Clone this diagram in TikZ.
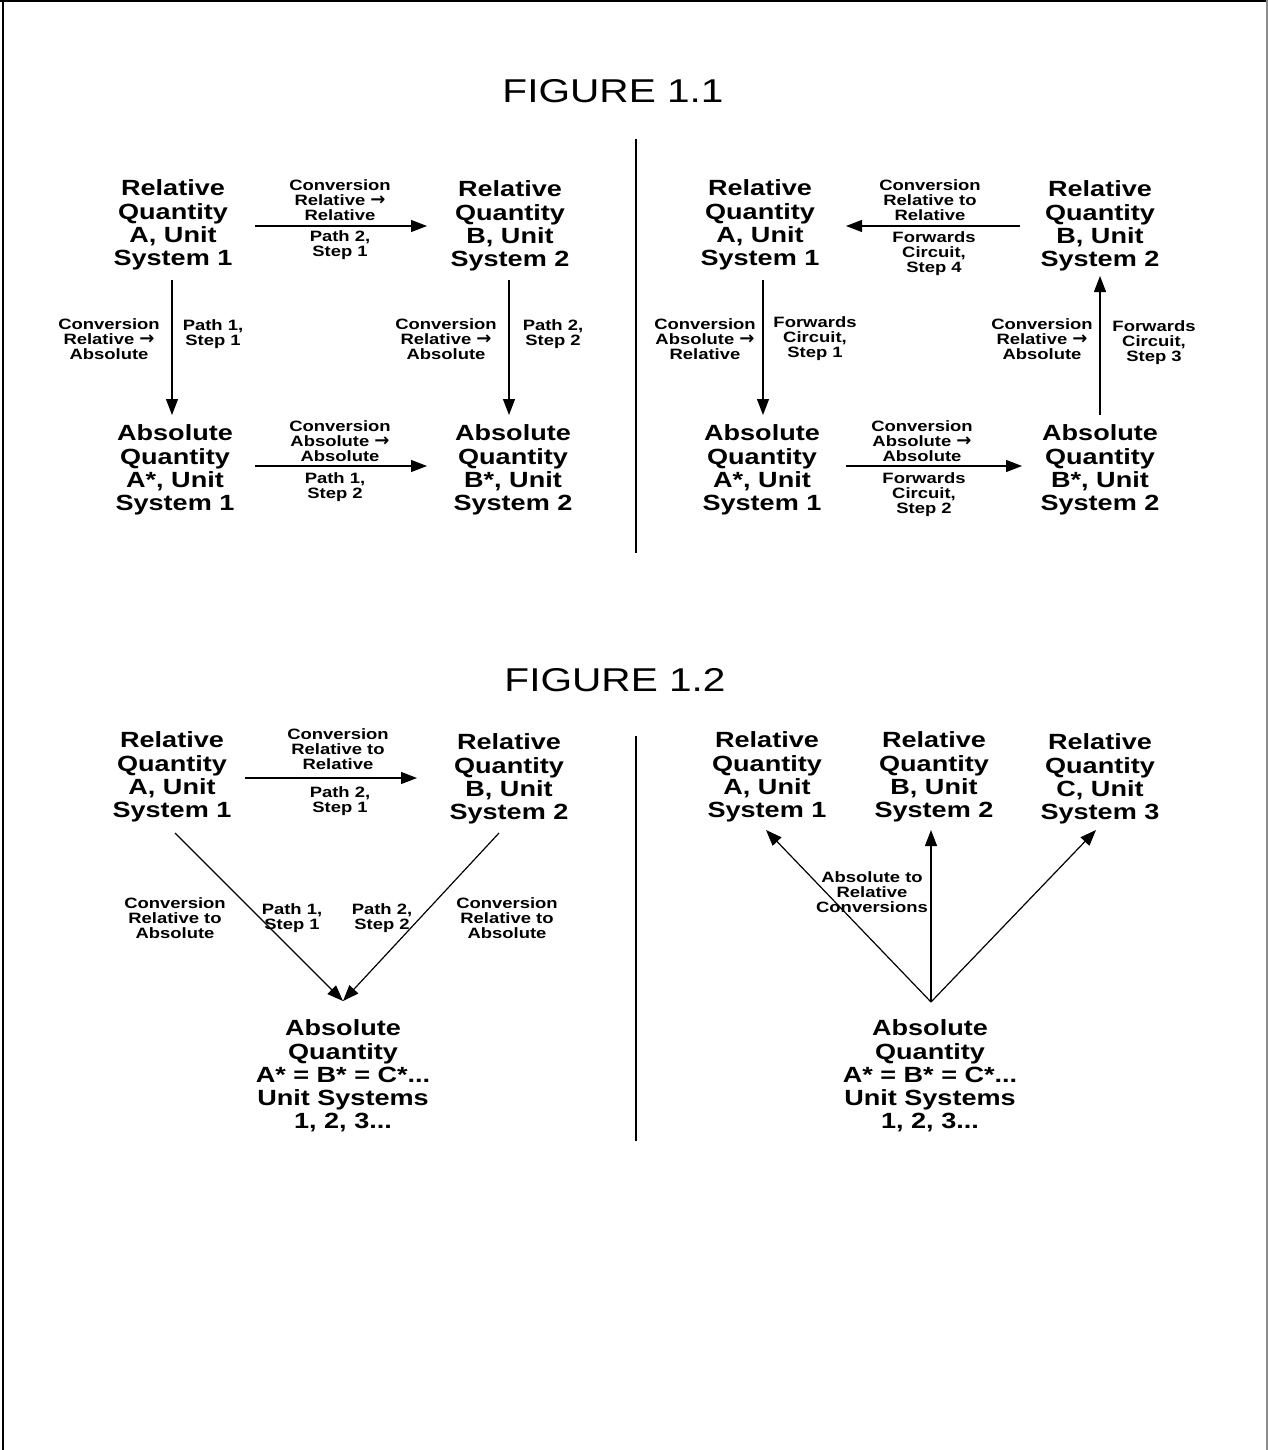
\documentclass[tikz,border=0pt]{standalone}
\usepackage{fontspec}
\setmainfont{Liberation Sans}[FakeStretch=1.23]
\newfontfamily\arwfont{DejaVu Sans}
\newcommand{\rarw}{{\arwfont\bfseries\fontsize{18}{15}\selectfont →}}
\usetikzlibrary{arrows.meta,calc}
\begin{document}
\begin{tikzpicture}[x=1pt,y=-1pt,
  qty/.style={font=\fontsize{22}{23.2}\selectfont\bfseries, align=center, inner sep=0pt},
  lbl/.style={font=\fontsize{15}{15}\selectfont\bfseries, align=center, inner sep=0pt},
  ttl/.style={font=\fontsize{33}{36}\selectfont, inner sep=0pt},
  arr/.style={line width=1.2pt, -{Triangle[length=16pt,width=12pt]}},
  rule/.style={line width=1.3pt}]
\useasboundingbox (0,0) rectangle (1268,1450);
% frame
\draw[line width=2pt] (0,1) -- (1268,1);
\draw[line width=2pt] (2.5,0) -- (2.5,1450);
\draw[line width=1.2pt, black!45] (1267,0) -- (1267,1450);

% titles and dividers
\node[ttl] (t1) at (613,91) {FIGURE 1.1};
\node[ttl] (t2) at (615,680) {FIGURE 1.2};
\draw[rule] (636,139) -- (636,553);
\draw[rule] (636,736) -- (636,1141);

% ---------- Figure 1.1 left ----------
\node[qty] (A) at (173,225) {Relative\\Quantity\\A, Unit\\System 1};
\node[qty] (B) at (510,226) {Relative\\Quantity\\B, Unit\\System 2};
\node[qty] (As) at (175,470) {Absolute\\Quantity\\A*, Unit\\System 1};
\node[qty] (Bs) at (513,470) {Absolute\\Quantity\\B*, Unit\\System 2};
\draw[arr] ($(A)+(82,1)$) -- ($(B)+(-83,0)$);
\draw[arr] ($(A)+(-1,55)$) -- ($(As)+(-3,-55)$);
\draw[arr] ($(B)+(-1,54)$) -- ($(Bs)+(-4,-55)$);
\draw[arr] ($(As)+(80,-4)$) -- ($(Bs)+(-86,-4)$);
\node[lbl] (l1) at (340,200) {Conversion\\Relative \rarw\\Relative};
\node[lbl] (l2) at (340,245) {Path 2,\\Step 1};
\node[lbl] (l3) at (109,339) {Conversion\\Relative \rarw\\Absolute};
\node[lbl] (l4) at (213,334) {Path 1,\\Step 1};
\node[lbl] (l5) at (446,339) {Conversion\\Relative \rarw\\Absolute};
\node[lbl] (l6) at (553,334) {Path 2,\\Step 2};
\node[lbl] (l7) at (340,441) {Conversion\\Absolute \rarw\\Absolute};
\node[lbl] (l8) at (335,487) {Path 1,\\Step 2};

% ---------- Figure 1.1 right ----------
\node[qty] (A2) at (760,225) {Relative\\Quantity\\A, Unit\\System 1};
\node[qty] (B2) at (1100,226) {Relative\\Quantity\\B, Unit\\System 2};
\node[qty] (As2) at (762,470) {Absolute\\Quantity\\A*, Unit\\System 1};
\node[qty] (Bs2) at (1100,470) {Absolute\\Quantity\\B*, Unit\\System 2};
\draw[arr] ($(B2)+(-80,0)$) -- ($(A2)+(86,1)$);
\draw[arr] ($(A2)+(3,55)$) -- ($(As2)+(1,-55)$);
\draw[arr] ($(As2)+(84,-4)$) -- ($(Bs2)+(-78,-4)$);
\draw[arr] ($(Bs2)+(0,-55)$) -- ($(B2)+(0,50)$);
\node[lbl] (r1) at (930,200) {Conversion\\Relative to\\Relative};
\node[lbl] (r2) at (934,254) {Forwards\\Circuit,\\Step 4};
\node[lbl] (r3) at (705,339) {Conversion\\Absolute \rarw\\Relative};
\node[lbl] (r4) at (815,339) {Forwards\\Circuit,\\Step 1};
\node[lbl] (r5) at (1042,339) {Conversion\\Relative \rarw\\Absolute};
\node[lbl] (r6) at (1154,343) {Forwards\\Circuit,\\Step 3};
\node[lbl] (r7) at (922,441) {Conversion\\Absolute \rarw\\Absolute};
\node[lbl] (r8) at (924,495) {Forwards\\Circuit,\\Step 2};

% ---------- Figure 1.2 left ----------
\node[qty] (C) at (172,777) {Relative\\Quantity\\A, Unit\\System 1};
\node[qty] (D) at (509,779) {Relative\\Quantity\\B, Unit\\System 2};
\node[qty] (E) at (343,1076) {Absolute\\Quantity\\A* = B* = C*...\\Unit Systems\\1, 2, 3...};
\draw[arr] ($(C)+(73,1)$) -- ($(D)+(-92,-1)$);
\draw[arr] ($(C)+(3,56)$) -- ($(E)+(0,-75)$);
\draw[arr] ($(D)+(-10,54)$) -- ($(E)+(0,-75)$);
\node[lbl] (s1) at (338,749) {Conversion\\Relative to\\Relative};
\node[lbl] (s2) at (340,801) {Path 2,\\Step 1};
\node[lbl] (s3) at (175,918) {Conversion\\Relative to\\Absolute};
\node[lbl] (s4) at (292,918) {Path 1,\\Step 1};
\node[lbl] (s5) at (382,918) {Path 2,\\Step 2};
\node[lbl] (s6) at (507,918) {Conversion\\Relative to\\Absolute};

% ---------- Figure 1.2 right ----------
\node[qty] (F) at (767,777) {Relative\\Quantity\\A, Unit\\System 1};
\node[qty] (G) at (934,777) {Relative\\Quantity\\B, Unit\\System 2};
\node[qty] (H) at (1100,779) {Relative\\Quantity\\C, Unit\\System 3};
\node[qty] (K) at (930,1076) {Absolute\\Quantity\\A* = B* = C*...\\Unit Systems\\1, 2, 3...};
\coordinate (o) at ($(K)+(1,-74)$);
\draw[arr] (o) -- ($(F)+(-1,53)$);
\draw[arr] (o) -- ($(G)+(-3,53)$);
\draw[arr] (o) -- ($(H)+(-4,51)$);
\node[lbl] (u1) at (872,892) {Absolute to\\Relative\\Conversions};
\end{tikzpicture}
\end{document}
